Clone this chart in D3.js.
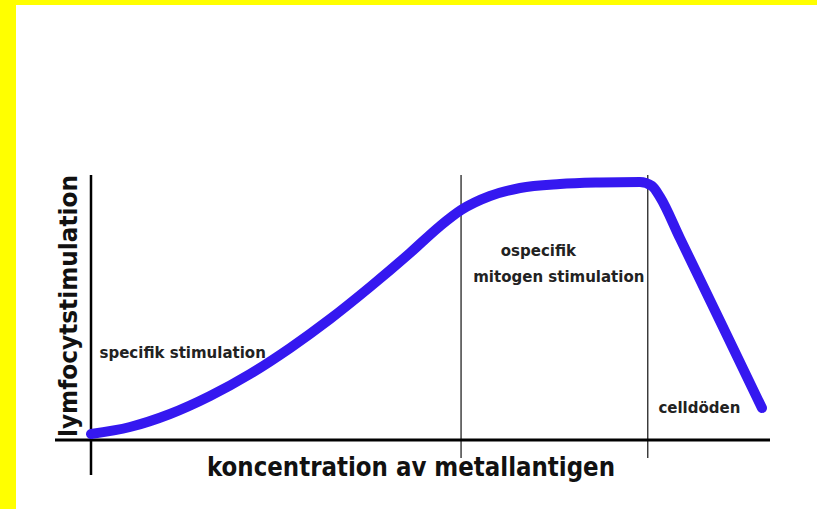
<!DOCTYPE html>
<html lang="sv">
<head>
    <meta charset="UTF-8">
    <title>Lymfocytstimulation vs koncentration av metallantigen</title>
    <script src="https://d3js.org/d3.v7.min.js"></script>
    <style>
        body { margin: 0; background: #fff; }
        svg { display: block; }
    </style>
</head>
<body>
    <svg width="817" height="509"></svg>

    <script>
        // Curve (concentration 0-100, stimulation 0-100)
        const concentration = [0, 5.74, 11.63, 17.53, 23.42, 29.31, 35.20, 41.09, 46.98, 51.4, 54.5, 58.76, 63.18, 69.07, 74.96, 80.85, 82.62, 83.8, 86.75, 92.64, 98.82];
        const stimulation   = [2.26, 4.91, 9.81, 16.6, 24.9, 34.7, 45.66, 57.74, 70.57, 80.75, 86.79, 92.08, 95.09, 96.6, 97.17, 97.36, 95.85, 91.7, 76.08, 44.91, 12.08];

        // Phase boundaries on the concentration axis
        const boundaries = [54.5, 82.0];

        // Labels (position in data units, text-anchor middle)
        const labelText = ["specifik stimulation", "ospecifik", "mitogen stimulation", "celldöden"];
        const labelX    = [13.5, 65.9, 68.9, 89.6];
        const labelY    = [30.9, 69.4, 59.6, 10.2];

        const xTitle = "koncentration av metallantigen";
        const yTitle = "lymfocytstimulation";

        const svg = d3.select("svg");

        // Yellow frame along top and left edge
        svg.append("rect").attr("x", 0).attr("y", 0).attr("width", 817).attr("height", 5).attr("fill", "#ffff00");
        svg.append("rect").attr("x", 0).attr("y", 0).attr("width", 16).attr("height", 509).attr("fill", "#ffff00");

        const x = d3.scaleLinear().domain([0, 100]).range([91, 770]);
        const y = d3.scaleLinear().domain([0, 100]).range([440, 175]);

        // Phase dividers
        svg.selectAll(".divider")
           .data(boundaries)
           .enter()
           .append("line")
           .attr("x1", d => x(d))
           .attr("x2", d => x(d))
           .attr("y1", y(100))
           .attr("y2", 458)
           .attr("stroke", "#111")
           .attr("stroke-width", 1.2);

        // Axes (plain lines, no ticks)
        svg.append("line")
           .attr("x1", 55).attr("x2", x(100))
           .attr("y1", y(0)).attr("y2", y(0))
           .attr("stroke", "#000").attr("stroke-width", 3);

        svg.append("line")
           .attr("x1", x(0)).attr("x2", x(0))
           .attr("y1", y(100)).attr("y2", 475)
           .attr("stroke", "#000").attr("stroke-width", 2.5);

        // Response curve
        const points = concentration.map((c, i) => [c, stimulation[i]]);
        const line = d3.line()
                       .x(d => x(d[0]))
                       .y(d => y(d[1]))
                       .curve(d3.curveMonotoneX);

        svg.append("path")
           .datum(points)
           .attr("d", line)
           .attr("fill", "none")
           .attr("stroke", "#3518f0")
           .attr("stroke-width", 10)
           .attr("stroke-linecap", "round")
           .attr("stroke-linejoin", "round");

        // Phase labels
        svg.selectAll(".label")
           .data(labelText)
           .enter()
           .append("text")
           .attr("x", (d, i) => x(labelX[i]))
           .attr("y", (d, i) => y(labelY[i]))
           .attr("text-anchor", "middle")
           .style("font-family", "'DejaVu Sans', sans-serif")
           .style("font-weight", "bold")
           .style("font-size", "15px")
           .attr("fill", "#222")
           .text(d => d);

        // Axis titles
        svg.append("text")
           .attr("x", 411)
           .attr("y", 476)
           .attr("text-anchor", "middle")
           .attr("textLength", 408)
           .attr("lengthAdjust", "spacingAndGlyphs")
           .style("font-family", "'DejaVu Sans Condensed', 'DejaVu Sans', sans-serif")
           .style("font-weight", "bold")
           .style("font-size", "26px")
           .attr("fill", "#111")
           .text(xTitle);

        svg.append("text")
           .attr("transform", "translate(77,306) rotate(-90)")
           .attr("text-anchor", "middle")
           .attr("textLength", 262)
           .attr("lengthAdjust", "spacingAndGlyphs")
           .style("font-family", "'DejaVu Sans Condensed', 'DejaVu Sans', sans-serif")
           .style("font-weight", "bold")
           .style("font-size", "25px")
           .attr("fill", "#111")
           .text(yTitle);
    </script>
</body>
</html>
